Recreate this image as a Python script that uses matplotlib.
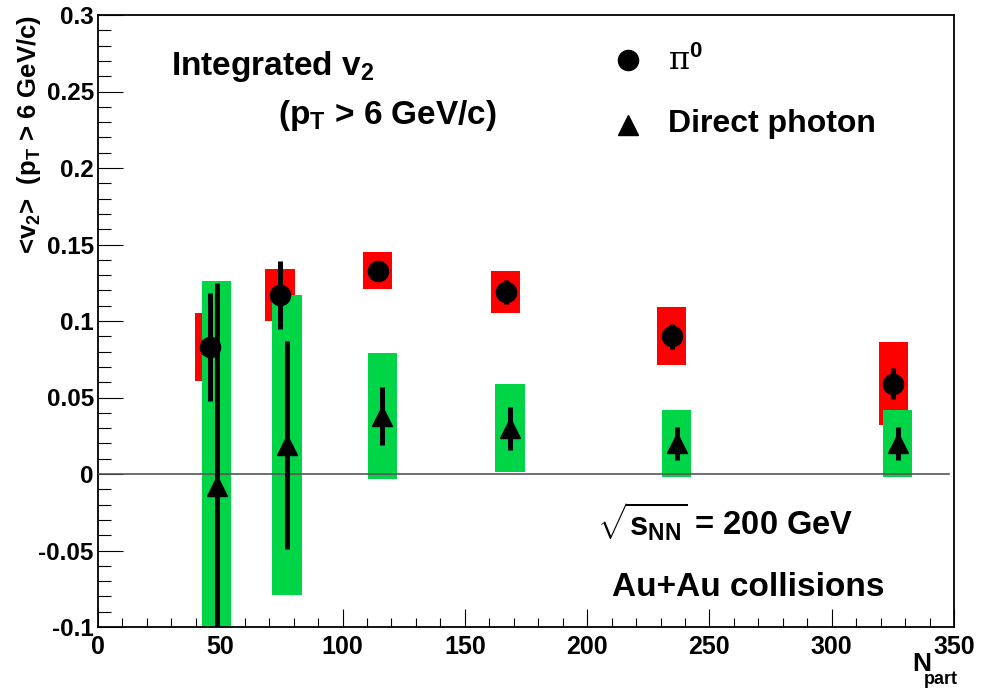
import matplotlib
matplotlib.use("Agg")
import matplotlib.pyplot as plt
from matplotlib.ticker import MultipleLocator

# ---- data ----
npart_pi0 = [45.7, 74.4, 114.4, 166.7, 234.6, 325.2]
v2_pi0 = [0.083, 0.117, 0.133, 0.119, 0.090, 0.059]
stat_pi0 = [0.035, 0.022, 0.005, 0.008, 0.008, 0.010]
sys_pi0 = [0.022, 0.017, 0.012, 0.014, 0.019, 0.027]

npart_gam = [48.5, 77.3, 116.3, 168.5, 236.6, 327.0]
v2_gam = [-0.008, 0.019, 0.038, 0.030, 0.020, 0.020]
stat_gam = [0.133, 0.068, 0.019, 0.014, 0.011, 0.011]
sys_gam = [0.134, 0.098, 0.041, 0.029, 0.022, 0.022]

xticks = [0, 50, 100, 150, 200, 250, 300, 350]
yticks = [-0.1, -0.05, 0, 0.05, 0.1, 0.15, 0.2, 0.25, 0.3]
ytick_labels = ["-0.1", "-0.05", "0", "0.05", "0.1", "0.15", "0.2", "0.25", "0.3"]

plt.rcParams['font.family'] = ['Liberation Sans', 'DejaVu Sans']
plt.rcParams['font.weight'] = 'bold'
plt.rcParams['mathtext.fontset'] = 'custom'
plt.rcParams['mathtext.rm'] = 'Liberation Sans:bold'
plt.rcParams['mathtext.it'] = 'Liberation Sans:bold'
plt.rcParams['mathtext.bf'] = 'Liberation Sans:bold'
plt.rcParams['mathtext.default'] = 'rm'

W, H = 982, 688
fig = plt.figure(figsize=(W / 100, H / 100), dpi=100)
L, R, T, B = 98, 954, 15, 627
ax = fig.add_axes([L / W, 1 - B / H, (R - L) / W, (B - T) / H])

RED = '#ff0000'
GREEN = '#00d447'
BOXW = 12

ax.bar(npart_pi0, [2 * s for s in sys_pi0], bottom=[v - s for v, s in zip(v2_pi0, sys_pi0)],
       width=BOXW, color=RED, linewidth=0, zorder=1)
ax.bar(npart_gam, [2 * s for s in sys_gam], bottom=[v - s for v, s in zip(v2_gam, sys_gam)],
       width=BOXW, color=GREEN, linewidth=0, zorder=2)

ax.plot([0, 348], [0, 0], color='#555555', lw=1.2, zorder=3)

ax.errorbar(npart_pi0, v2_pi0, yerr=stat_pi0, fmt='o', color='black', ms=14.5,
            elinewidth=3.6, capsize=0, zorder=5)
ax.errorbar(npart_gam, v2_gam, yerr=stat_gam, fmt='^', color='black', ms=15,
            elinewidth=3.6, capsize=0, zorder=5)

ax.set_xlim(0, 350)
ax.set_ylim(-0.1, 0.3)
ax.set_xticks(xticks)
ax.set_xticklabels([str(t) for t in xticks])
ax.set_yticks(yticks)
ax.set_yticklabels(ytick_labels)
ax.xaxis.set_minor_locator(MultipleLocator(10))
ax.yaxis.set_minor_locator(MultipleLocator(0.01))
ax.tick_params(axis='y', which='major', direction='in', length=18, width=0.8, labelsize=17.5, pad=3)
ax.tick_params(axis='y', which='minor', direction='in', length=9, width=0.8)
ax.tick_params(axis='x', which='major', direction='in', length=13, width=0.8, labelsize=18, pad=6)
ax.tick_params(axis='x', which='minor', direction='in', length=6.6, width=0.8)
for lab in ax.get_xticklabels() + ax.get_yticklabels():
    lab.set_fontweight('bold')
for sp in ax.spines.values():
    sp.set_linewidth(1.3)

# legend (manual)
ax.plot([0.619], [0.926], 'o', color='black', ms=14.5, transform=ax.transAxes, clip_on=False)
ax.plot([0.619], [0.820], '^', color='black', ms=15, transform=ax.transAxes, clip_on=False)
ax.text(0.666, 0.910, 'π$^{0}$', transform=ax.transAxes, fontsize=23, va='baseline', ha='left',
        family=['DejaVu Serif'], fontweight='normal')
ax.text(0.666, 0.822, 'Direct photon', transform=ax.transAxes, fontsize=23, va='center', ha='left')

ax.text(0.085, 0.902, 'Integrated v$_{2}$', transform=ax.transAxes, fontsize=24, va='baseline', ha='left')
ax.text(0.210, 0.822, '(p$_{T}$ > 6 GeV/c)', transform=ax.transAxes, fontsize=24, va='baseline', ha='left')

ax.text(0.583, 0.150, r'$\sqrt{s_{NN}}$ = 200 GeV', transform=ax.transAxes, fontsize=23.5, va='baseline', ha='left')
ax.text(0.601, 0.050, 'Au+Au collisions', transform=ax.transAxes, fontsize=24, va='baseline', ha='left')

fig.text(29 / W, 1 - 15 / H, '<v$_{2}$>  (p$_{T}$ > 6 GeV/c)', rotation=90, ha='center', va='top', fontsize=18.5)
fig.text(912 / W, 1 - 671 / H, 'N', ha='left', va='baseline', fontsize=19)
fig.text(924 / W, 1 - 684 / H, 'part', ha='left', va='baseline', fontsize=13)

fig.savefig('out.png', dpi=100)
